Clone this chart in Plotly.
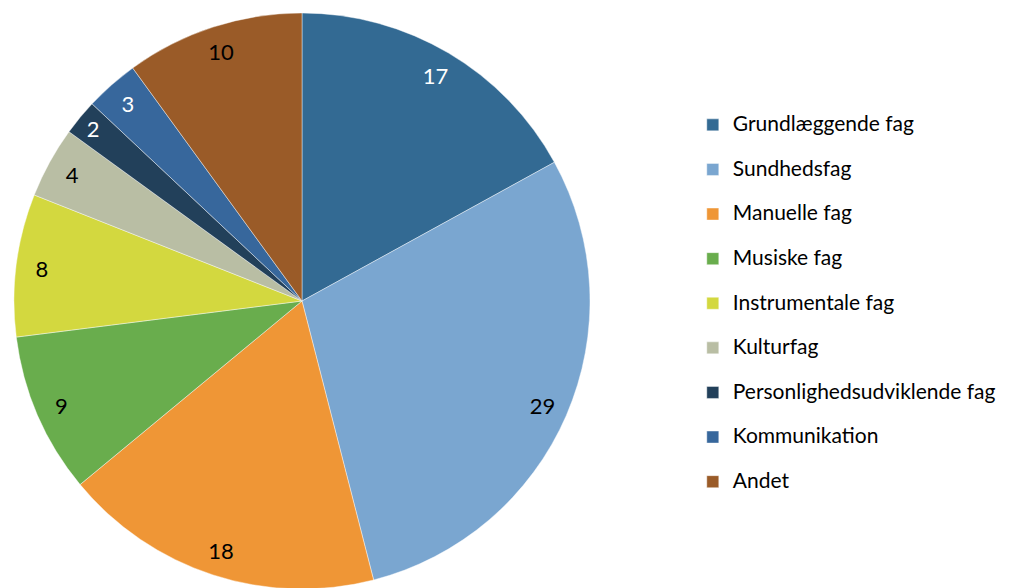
import plotly.graph_objects as go

# fordeling af fag (procent)
categories = ["Grundlæggende fag", "Sundhedsfag", "Manuelle fag", "Musiske fag",
              "Instrumentale fag", "Kulturfag", "Personlighedsudviklende fag",
              "Kommunikation", "Andet"]
values = [17, 29, 18, 9, 8, 4, 2, 3, 10]

colors = ["#336a93", "#7aa6d0", "#ef9636", "#69ad4d", "#d3d83f",
          "#b9bea4", "#22405a", "#37679c", "#9a5b28"]
label_colors = ["white", "black", "black", "black", "black",
                "black", "white", "white", "black"]

FONT = "Lato, 'Liberation Sans', sans-serif"
# page body has an 8px margin, so the domain is shifted up/left by that
pie_domain = dict(x=[6 / 1013, 582 / 1013], y=[7 / 588, 583 / 588])

# legend text is bigger than the legend font; the empty 2nd line gives the row spacing
legend_labels = ["<span style='font-size:21px'>" + c + "</span><br> " for c in categories]

# main pie, gives the slices and the legend
pie = go.Pie(labels=legend_labels, values=values, sort=False,
             direction="clockwise", rotation=0, textinfo="none",
             marker=dict(colors=colors, line=dict(color="rgba(255,255,255,0.6)", width=0.7)),
             domain=pie_domain, hovertext=categories, hoverinfo="text+value")

# transparent ring on top, only used to place the value labels near the edge
ring = go.Pie(labels=categories, values=values, sort=False, direction="clockwise",
              rotation=0, hole=0.82, textinfo="value", textposition="inside",
              insidetextorientation="horizontal",
              textfont=dict(family=FONT, size=22, color=label_colors),
              marker=dict(colors=["rgba(0,0,0,0)"] * len(values)),
              domain=pie_domain, showlegend=False, hoverinfo="skip")

fig = go.Figure(data=[pie, ring])
fig.update_layout(
    width=1013, height=588,
    margin=dict(l=0, r=0, t=0, b=0, autoexpand=False),
    paper_bgcolor="white",
    font=dict(family=FONT, size=16, color="black"),
    legend=dict(x=0.676, y=0.83, xanchor="left", yanchor="top",
                valign="top", font=dict(family=FONT, size=16), itemclick=False),
)

fig.write_html("out.html")
